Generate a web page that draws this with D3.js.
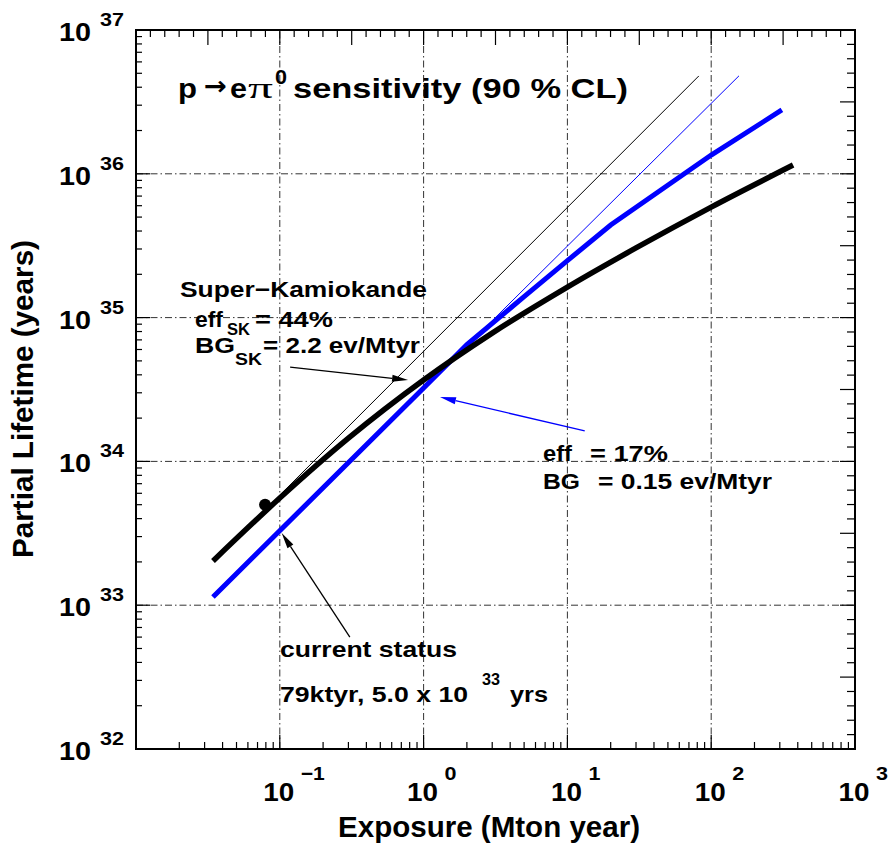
<!DOCTYPE html>
<html><head><meta charset="utf-8">
<script src="https://cdn.jsdelivr.net/npm/d3@7"></script>
<style>html,body{margin:0;padding:0;background:#fff;}</style>
</head><body>
<svg id="chart" width="890" height="848"></svg>
<script>
// ---- data ----
const skExposure = [0.0343, 0.1, 0.3, 1, 3, 10, 30, 100, 371];
const skLifetime = [2.03e33, 5.56e33, 1.45e34, 3.68e34, 7.8e34, 1.63e35, 3.05e35, 5.87e35, 1.15e36];
const hkExposure = [0.0343, 1, 2, 5, 10, 20, 100, 310];
const hkLifetime = [1.14e33, 3.24e34, 6.48e34, 1.40e35, 2.49e35, 4.40e35, 1.35e36, 2.78e36];
const skBgFreeExposure = [0.079, 82];
const skBgFreeLifetime = [4.6e33, 4.79e36];
const hkBgFreeExposure = [1, 156];
const hkBgFreeLifetime = [3.2e34, 4.8e36];
const currentExposure = [0.079];
const currentLifetime = [5.0e33];
const xTickExponents = [-1, 0, 1, 2, 3];
const yTickExponents = [32, 33, 34, 35, 36, 37];
const xGridExponents = [-1, 0, 1, 2];
const yGridExponents = [33, 34, 35, 36];

// ---- layout ----
const svg = d3.select('#chart');
const L = 136, R = 855, T = 30, B = 749;
const x = d3.scaleLog().domain([1e-2, 1e3]).range([L, R]);
const y = d3.scaleLog().domain([1e32, 1e37]).range([B, T]);
const FONT = '"Liberation Sans", Arial, Helvetica, sans-serif';

svg.append('rect').attr('width', 890).attr('height', 848).attr('fill', '#fff');

function txt(xp, yp, s, size, o = {}) {
  const t = svg.append('text').attr('x', xp).attr('y', yp).text(s)
    .attr('font-family', o.family || FONT).attr('font-weight', o.weight || 'bold')
    .attr('font-size', size).attr('fill', o.fill || '#000')
    .attr('text-anchor', o.anchor || 'start');
  if (o.width) t.attr('textLength', o.width).attr('lengthAdjust', 'spacingAndGlyphs');
  return t;
}

// ---- grid ----
const gridStyle = g => g.attr('stroke', '#333').attr('stroke-width', 1).attr('stroke-dasharray', '7,3,1.5,3').attr('fill', 'none');
svg.append('g').selectAll('line').data(xGridExponents).join('line')
  .attr('x1', d => x(Math.pow(10, d))).attr('x2', d => x(Math.pow(10, d)))
  .attr('y1', B).attr('y2', T).call(gridStyle);
svg.append('g').selectAll('line').data(yGridExponents).join('line')
  .attr('y1', d => y(Math.pow(10, d))).attr('y2', d => y(Math.pow(10, d)))
  .attr('x1', L).attr('x2', R).call(gridStyle);

// ---- ticks ----
function logTicks(lo, hi) {
  const out = [];
  for (let d = lo; d < hi; d++) for (let k = 1; k <= 9; k++)
    out.push({ v: k * Math.pow(10, d), major: k === 1 });
  return out;
}
function evenTicks(lo, hi) {
  const out = [];
  for (let d = lo; d < hi; d++) for (let k = 0; k < 10; k++) {
    if (d === lo && k === 0) continue;
    out.push({ v: Math.pow(10, d + k / 10), major: k === 0 || k === 5 });
  }
  return out;
}
const tickG = svg.append('g').attr('stroke', '#000').attr('stroke-width', 1.2);
// bottom (log)
tickG.append('g').selectAll('line').data(logTicks(-2, 3)).join('line')
  .attr('x1', d => x(d.v)).attr('x2', d => x(d.v)).attr('y1', B).attr('y2', d => B - (d.major ? 14 : 7));
// left (log)
tickG.append('g').selectAll('line').data(logTicks(32, 37)).join('line')
  .attr('y1', d => y(d.v)).attr('y2', d => y(d.v)).attr('x1', L).attr('x2', d => L + (d.major ? 14 : 6));
// top (evenly spaced)
tickG.append('g').selectAll('line').data(evenTicks(-2, 3)).join('line')
  .attr('x1', d => x(d.v)).attr('x2', d => x(d.v)).attr('y1', T).attr('y2', d => T + (d.major ? 15 : 7));
// right (evenly spaced)
tickG.append('g').selectAll('line').data(evenTicks(32, 37)).join('line')
  .attr('y1', d => y(d.v)).attr('y2', d => y(d.v)).attr('x1', R).attr('x2', d => R - (d.major ? 15 : 8));

// frame
svg.append('rect').attr('x', L).attr('y', T).attr('width', R - L).attr('height', B - T)
  .attr('fill', 'none').attr('stroke', '#000').attr('stroke-width', 2);

// ---- tick labels ----
xTickExponents.forEach(e => {
  const px = x(Math.pow(10, e));
  txt(px - 1, B + 52, '10', 25, { anchor: 'middle', width: 31 });
  const sup = e < 0 ? '\u2212' + Math.abs(e) : String(e);
  txt(px + 21, B + 31, sup, 19, { width: sup.length > 1 ? 24 : 12 });
});
yTickExponents.forEach(e => {
  const py = y(Math.pow(10, e));
  txt(91, py + 11, '10', 25, { anchor: 'end', width: 32 });
  txt(100, py - 4, String(e), 19, { width: 24 });
});

// axis titles
txt(489, 837, 'Exposure (Mton year)', 29, { anchor: 'middle', width: 302 });
svg.append('text').attr('transform', 'translate(33,399) rotate(-90)')
  .attr('text-anchor', 'middle').attr('font-family', FONT).attr('font-weight', 'bold')
  .attr('font-size', 29).attr('textLength', 318).attr('lengthAdjust', 'spacingAndGlyphs')
  .text('Partial Lifetime (years)');

// ---- curves ----
const line = d3.line().x(d => x(d[0])).y(d => y(d[1]));
const smooth = d3.line().x(d => x(d[0])).y(d => y(d[1])).curve(d3.curveMonotoneX);
const zip = (a, b) => a.map((v, i) => [v, b[i]]);
svg.append('path').datum(zip(skBgFreeExposure, skBgFreeLifetime)).attr('d', line)
  .attr('fill', 'none').attr('stroke', '#000').attr('stroke-width', 1);
svg.append('path').datum(zip(hkBgFreeExposure, hkBgFreeLifetime)).attr('d', line)
  .attr('fill', 'none').attr('stroke', '#0000ff').attr('stroke-width', 1);
svg.append('path').datum(zip(hkExposure, hkLifetime)).attr('d', line)
  .attr('fill', 'none').attr('stroke', '#0000ff').attr('stroke-width', 5);
svg.append('path').datum(zip(skExposure, skLifetime)).attr('d', smooth)
  .attr('fill', 'none').attr('stroke', '#000').attr('stroke-width', 5.5);
svg.append('g').selectAll('circle').data(zip(currentExposure, currentLifetime)).join('circle')
  .attr('cx', d => x(d[0])).attr('cy', d => y(d[1])).attr('r', 6).attr('fill', '#000');

// ---- arrows (anchored in data units) ----
function arrow(from, to, color) {
  const x1 = x(from[0]), y1 = y(from[1]), x2 = x(to[0]), y2 = y(to[1]);
  const ang = Math.atan2(y2 - y1, x2 - x1), len = 16, hw = 3.5;
  const bx = x2 - len * Math.cos(ang), by = y2 - len * Math.sin(ang);
  svg.append('line').attr('x1', x1).attr('y1', y1).attr('x2', bx).attr('y2', by)
    .attr('stroke', color).attr('stroke-width', 1.3);
  const px = -Math.sin(ang) * hw, py = Math.cos(ang) * hw;
  svg.append('path').attr('d', `M${x2},${y2}L${bx + px},${by + py}L${bx - px},${by - py}Z`).attr('fill', color);
}
arrow([0.118, 4.53e34], [0.78, 3.68e34], '#000');
arrow([13.2, 1.63e34], [1.30, 2.8e34], '#0000ff');
arrow([0.307, 6.0e32], [0.103, 3.18e33], '#000');

// ---- title ----
txt(178, 98, 'p', 28, { width: 19 });
txt(204, 95, '\u2192', 26, { width: 23, family: '"DejaVu Sans", sans-serif' });
txt(230, 98, 'e', 28, { width: 17 });
txt(248, 98, '\u03c0', 30, { width: 25, family: '"Liberation Serif", "DejaVu Serif", serif', weight: 'normal' });
txt(275, 84, '0', 20, { width: 12 });
txt(293, 98, 'sensitivity (90 % CL)', 28, { width: 335 });

// ---- annotations ----
txt(180, 297, 'Super\u2212Kamiokande', 22, { width: 247 });
txt(195, 327, 'eff', 22, { width: 28 });
txt(227, 335, 'SK', 16, { width: 23 });
txt(255, 327, '= 44%', 22, { width: 78 });
txt(195, 353, 'BG', 22, { width: 40 });
txt(235, 365, 'SK', 16, { width: 27 });
txt(263, 353, '= 2.2 ev/Mtyr', 22, { width: 157 });

txt(543, 461, 'eff', 22, { width: 29 });
txt(590, 461, '= 17%', 22, { width: 78 });
txt(543, 489, 'BG', 22, { width: 37 });
txt(598, 489, '= 0.15 ev/Mtyr', 22, { width: 174 });

txt(280, 657, 'current status', 22, { width: 177 });
txt(280, 702, '79ktyr, 5.0 x 10', 22, { width: 188 });
txt(482, 685, '33', 16, { width: 18 });
txt(510, 702, 'yrs', 22, { width: 38 });
</script>
</body></html>
